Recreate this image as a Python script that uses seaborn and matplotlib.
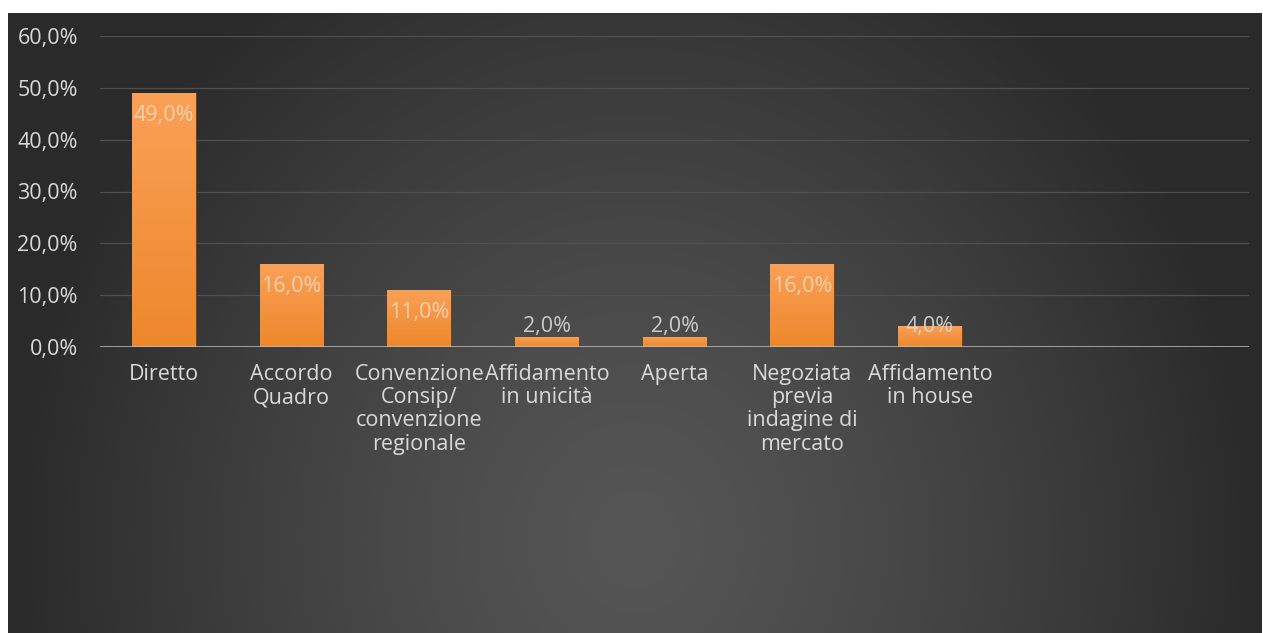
import numpy as np
import pandas as pd
import matplotlib
matplotlib.use("Agg")
import matplotlib.pyplot as plt
import seaborn as sns
from matplotlib.ticker import FuncFormatter

# --- data ---
categories = ["Diretto", "Accordo\nQuadro", "Convenzione\nConsip/\nconvenzione\nregionale",
              "Affidamento\nin unicità", "Aperta", "Negoziata\nprevia\nindagine di\nmercato",
              "Affidamento\nin house"]
values = [49.0, 16.0, 11.0, 2.0, 2.0, 16.0, 4.0]
y_ticks = [0, 10, 20, 30, 40, 50, 60]

df = pd.DataFrame({"cat": categories, "val": values})

sns.set_theme(style="dark")
plt.rcParams["font.family"] = ["Open Sans", "DejaVu Sans"]

W, H = 1263, 633
fig = plt.figure(figsize=(W / 100, H / 100), dpi=100)
fig.patch.set_facecolor("white")

# --- radial gradient background panel ---
bg = fig.add_axes([8 / W, 0, (1262 - 8) / W, (633 - 13) / H])
bg.set_axis_off()
gx, gy = np.meshgrid(np.linspace(-1, 1, 600), np.linspace(0, 1, 300))
r = np.sqrt((gx / 1.0) ** 2 + ((gy - 0.15) / 1.1) ** 2)
r = np.clip(r, 0, 1)
shade = 0.335 - 0.17 * r ** 1.3
bg.imshow(np.dstack([shade] * 3), aspect="auto", origin="lower",
          extent=[0, 1, 0, 1], interpolation="bilinear")
bg.set_xlim(0, 1)
bg.set_ylim(0, 1)

# --- main axes ---
ax = fig.add_axes([100 / W, (H - 347) / H, 1149 / W, (347 - 36) / H])
ax.set_facecolor("none")

sns.barplot(data=df, x="cat", y="val", color="#F79646", width=0.5,
            saturation=1, ax=ax, zorder=3)

# gradient fill for bars
grad = np.linspace(0, 1, 100).reshape(-1, 1)
top_c = np.array([0.98, 0.63, 0.34])
bot_c = np.array([0.93, 0.53, 0.17])
grad_img = bot_c + (top_c - bot_c) * grad
for p in ax.patches:
    x0, y0 = p.get_x(), p.get_y()
    w, h = p.get_width(), p.get_height()
    p.set_edgecolor("#6b3a12")
    p.set_linewidth(0.6)
    im = ax.imshow(grad_img.reshape(100, 1, 3), aspect="auto", origin="lower",
                   extent=[x0, x0 + w, y0, y0 + h], zorder=3.5,
                   interpolation="bilinear")
    im.set_clip_path(p)

ax.set_xlim(-0.5, 8.5)
ax.set_ylim(0, 60)
ax.set_yticks(y_ticks)
ax.yaxis.set_major_formatter(FuncFormatter(lambda v, _: f"{v:.1f}%".replace(".", ",")))

for s in ax.spines.values():
    s.set_visible(False)
ax.grid(axis="y", color="#505050", linewidth=0.9, zorder=0)
ax.grid(axis="x", visible=False)
ax.axhline(0, color="#bfbfbf", linewidth=1.8, zorder=4)

ax.tick_params(axis="y", length=0, pad=16, labelsize=15.5, labelcolor="#d9d9d9")
ax.tick_params(axis="x", length=0, pad=12, labelsize=15.5, labelcolor="#d9d9d9")
for t in ax.get_xticklabels():
    t.set_linespacing(1.15)
ax.set_xlabel("")
ax.set_ylabel("")

# data labels: inside end, pushed above when the bar is too short
for i, v in enumerate(values):
    y = max(v - 4.4, 3.9)
    inside = v - 4.4 >= 3.9
    ax.text(i, y, f"{v:.1f}%".replace(".", ","), ha="center", va="center",
            fontsize=15.5, color="#f9d6b8" if inside else "#d9d9d9",
            alpha=0.9, zorder=6)

fig.savefig("out.png", dpi=100)
